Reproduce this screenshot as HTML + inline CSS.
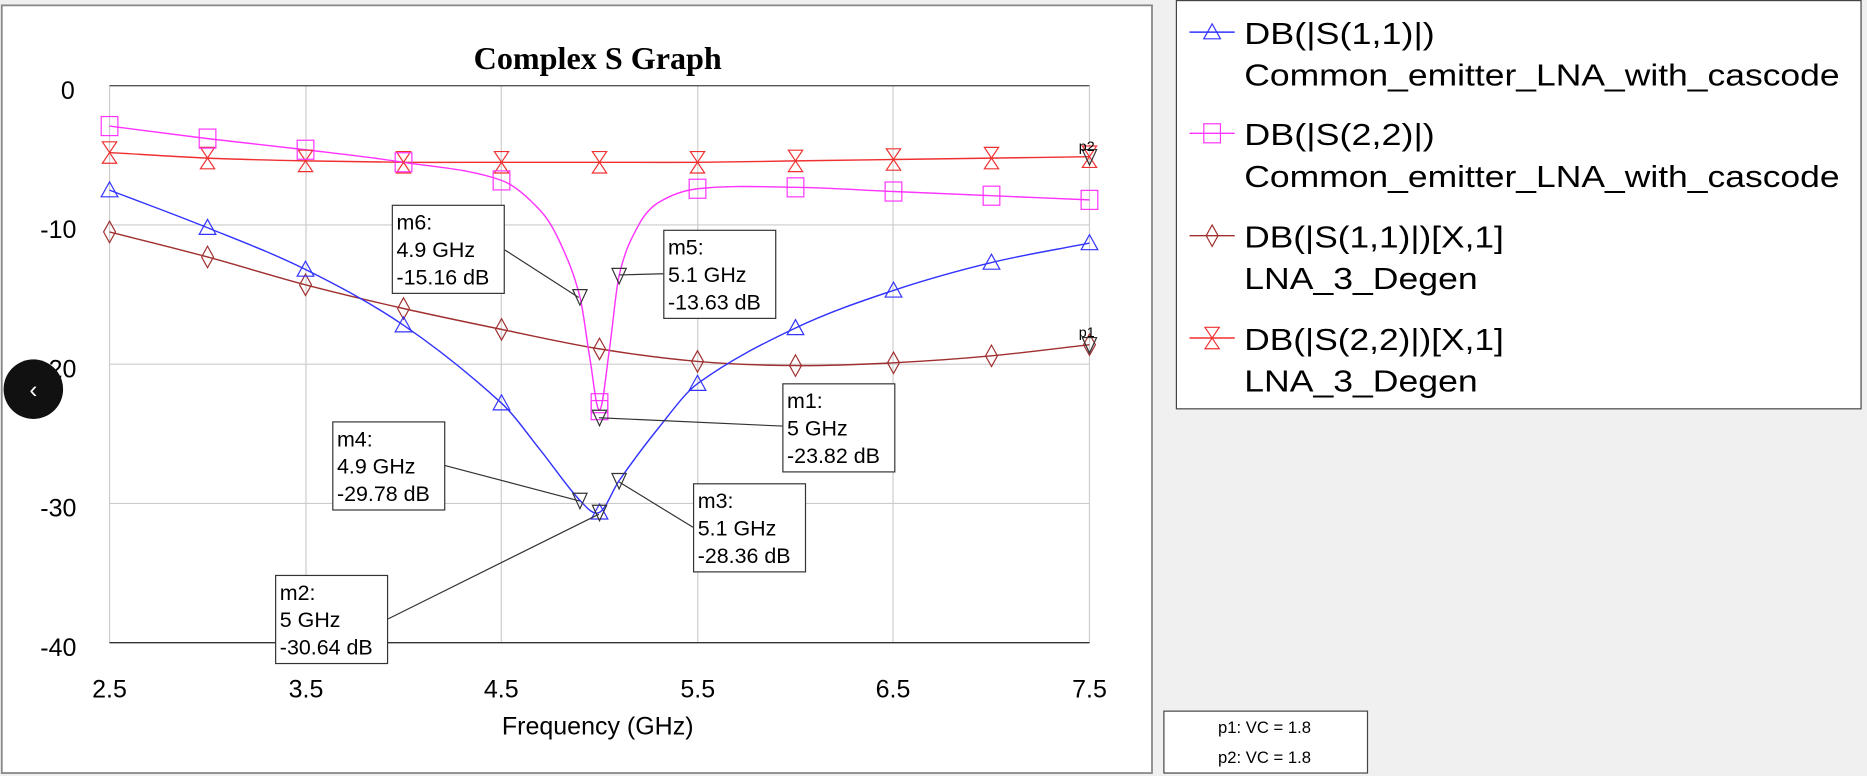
<!DOCTYPE html>
<html><head><meta charset="utf-8"><style>
html,body{margin:0;padding:0;width:1867px;height:776px;overflow:hidden;background:#f0f0f0}
svg{display:block}
text{font-family:"Liberation Sans",sans-serif}
</style></head><body>
<svg id="s" width="1867" height="776" viewBox="0 0 1568 652" preserveAspectRatio="none" xmlns="http://www.w3.org/2000/svg">
<rect x="0" y="0" width="1568" height="652" fill="#f0f0f0"/>
<rect x="1.5" y="4.5" width="966" height="645" fill="#fff" stroke="#888" stroke-width="1.5"/>
<text x="502" y="58" font-weight="bold" font-size="27" text-anchor="middle" style="font-family:'Liberation Serif',serif">Complex S Graph</text>
<g stroke="#ccc" stroke-width="1">
<line x1="257" y1="72" x2="257" y2="540"/><line x1="421" y1="72" x2="421" y2="540"/>
<line x1="586" y1="72" x2="586" y2="540"/><line x1="750" y1="72" x2="750" y2="540"/>
<line x1="92" y1="189" x2="915" y2="189"/><line x1="92" y1="306" x2="915" y2="306"/><line x1="92" y1="423" x2="915" y2="423"/>
<line x1="915" y1="72" x2="915" y2="540"/><line x1="92" y1="72" x2="92" y2="540"/>
</g>
<line x1="92" y1="72" x2="915" y2="72" stroke="#555" stroke-width="1.2"/>
<line x1="92" y1="540" x2="915" y2="540" stroke="#333" stroke-width="1.2"/>
<g font-size="21" text-anchor="middle" fill="#000">
<text x="57" y="83">0</text><text x="49" y="200">-10</text><text x="49" y="317">-20</text><text x="49" y="434">-30</text><text x="49" y="551">-40</text>
<text x="92" y="586">2.5</text><text x="257" y="586">3.5</text><text x="421" y="586">4.5</text><text x="586" y="586">5.5</text><text x="750" y="586">6.5</text><text x="915" y="586">7.5</text>
<text x="502" y="617" font-size="21">Frequency (GHz)</text>
</g>
<g id="curves"></g>
<g id="mk"></g>
<g font-size="12" fill="#000"><text x="906" y="127">p2</text><text x="906" y="283">p1</text></g>
<g id="boxes" font-size="18" fill="#000"></g>
<circle cx="28" cy="327" r="25" fill="#111"/>
<text x="28" y="334" fill="#fff" font-size="20" text-anchor="middle">‹</text>
<rect x="988" y="0.5" width="575" height="343" fill="#fff" stroke="#444" stroke-width="1"/>
<g font-size="26" fill="#000">
<text x="1045" y="37" textLength="160" lengthAdjust="spacingAndGlyphs">DB(|S(1,1)|)</text><text x="1045" y="72" textLength="500" lengthAdjust="spacingAndGlyphs">Common_emitter_LNA_with_cascode</text>
<text x="1045" y="122" textLength="160" lengthAdjust="spacingAndGlyphs">DB(|S(2,2)|)</text><text x="1045" y="157" textLength="500" lengthAdjust="spacingAndGlyphs">Common_emitter_LNA_with_cascode</text>
<text x="1045" y="208" textLength="218" lengthAdjust="spacingAndGlyphs">DB(|S(1,1)|)[X,1]</text><text x="1045" y="243" textLength="196" lengthAdjust="spacingAndGlyphs">LNA_3_Degen</text>
<text x="1045" y="294" textLength="218" lengthAdjust="spacingAndGlyphs">DB(|S(2,2)|)[X,1]</text><text x="1045" y="329" textLength="196" lengthAdjust="spacingAndGlyphs">LNA_3_Degen</text>
</g>
<g id="leg"></g>
<rect x="977.5" y="597.5" width="171" height="52" fill="#fff" stroke="#444" stroke-width="1"/>
<g font-size="14" fill="#000" text-anchor="middle"><text x="1062" y="616">p1: VC = 1.8</text><text x="1062" y="641">p2: VC = 1.8</text></g>
</svg>
<script>
var NS="http://www.w3.org/2000/svg";
function X(f){return 92+(f-2.5)*164.6}
function Y(d){return 72-d*11.7}
function el(p,t,a){var e=document.createElementNS(NS,t);for(var k in a)e.setAttribute(k,a[k]);p.appendChild(e);return e}
function path(pts){var P=pts.map(function(p){return[X(p[0]),Y(p[1])]});var d="M"+P[0][0]+","+P[0][1];
for(var i=0;i<P.length-1;i++){var p0=P[i-1]||P[i],p1=P[i],p2=P[i+1],p3=P[i+2]||p2;
var h=p2[0]-p1[0];
var m1=(p2[1]-p0[1])/((p2[0]-p0[0])||1),m2=(p3[1]-p1[1])/((p3[0]-p1[0])||1);
var c1=[p1[0]+h/3,p1[1]+m1*h/3],c2=[p2[0]-h/3,p2[1]-m2*h/3];
d+=" C"+c1+" "+c2+" "+p2;}return d}
var cv=document.getElementById("curves"),mk=document.getElementById("mk");
var blue=[[2.5,-7.5],[3,-10.2],[3.5,-13.2],[4,-17.2],[4.5,-22.8],[4.7,-26.2],[4.9,-29.78],[5,-30.64],[5.1,-28.36],[5.3,-24.6],[5.5,-21.4],[6,-17.4],[6.5,-14.7],[7,-12.7],[7.5,-11.3]];
var mag=[[2.5,-2.9],[3,-3.8],[3.5,-4.6],[4,-5.5],[4.5,-6.8],[4.7,-9],[4.8,-11.3],[4.9,-15.16],[4.95,-19.5],[5,-23.3],[5.05,-19],[5.1,-13.63],[5.2,-10],[5.3,-8.4],[5.5,-7.4],[6,-7.3],[6.5,-7.6],[7,-7.9],[7.5,-8.2]];
var brn=[[2.5,-10.5],[3,-12.3],[3.5,-14.3],[4,-16],[4.5,-17.5],[5,-18.9],[5.5,-19.8],[6,-20.1],[6.5,-19.9],[7,-19.4],[7.5,-18.6]];
var red=[[2.5,-4.8],[3,-5.2],[3.5,-5.4],[4,-5.5],[4.5,-5.5],[5,-5.5],[5.5,-5.5],[6,-5.4],[6.5,-5.3],[7,-5.2],[7.5,-5.1]];
var S=[[red,"#f03030","bow"],[brn,"#a03030","dia"],[mag,"#ff33ff","sq"],[blue,"#3333ff","tri"]];
function marker(g,x,y,t,c){var s=7;
if(t=="tri")el(g,"polygon",{points:(x-s)+","+(y+s*0.8)+" "+(x+s)+","+(y+s*0.8)+" "+x+","+(y-s),fill:"none",stroke:c});
if(t=="sq")el(g,"rect",{x:x-7,y:y-8,width:14,height:16,fill:"none",stroke:c});
if(t=="dia")el(g,"polygon",{points:x+","+(y-9)+" "+(x+5)+","+y+" "+x+","+(y+9)+" "+(x-5)+","+y,fill:"none",stroke:c});
if(t=="bow")el(g,"polygon",{points:(x-6)+","+(y-9)+" "+(x+6)+","+(y-9)+" "+(x-6)+","+(y+9)+" "+(x+6)+","+(y+9),fill:"none",stroke:c});
if(t=="dn")el(g,"polygon",{points:(x-6)+","+(y-7)+" "+(x+6)+","+(y-7)+" "+x+","+(y+6),fill:"none",stroke:c});}
S.forEach(function(s){el(cv,"path",{d:path(s[0]),fill:"none",stroke:s[1],"stroke-width":1.2});
for(var f=2.5;f<=7.51;f+=0.5){var v=s[0].filter(function(p){return Math.abs(p[0]-f)<1e-6})[0];if(v)marker(mk,X(f),Y(v[1]),s[2],s[1]);}});
marker(mk,X(5),Y(-22.8),"sq","#ff33ff");
var lg=document.getElementById("leg");
[[27,"#3333ff","tri"],[112,"#ff33ff","sq"],[198,"#a03030","dia"],[284,"#f03030","bow"]].forEach(function(l){el(lg,"line",{x1:999,y1:l[0],x2:1037,y2:l[0],stroke:l[1],"stroke-width":1.2});marker(lg,1018,l[0],l[2],l[1]);});
[[4.9,-15.16],[5.1,-13.63],[5,-23.82],[4.9,-29.78],[5.1,-28.36],[5,-30.64],[7.5,-18.6],[7.5,-5.1]].forEach(function(p){marker(mk,X(p[0]),Y(p[1])+1,"dn","#333");});
var bx=document.getElementById("boxes");
[[329,172,"m6:","4.9 GHz","-15.16 dB",424,210,486,250],[557,193,"m5:","5.1 GHz","-13.63 dB",557,230,520,231],[657,322,"m1:","5 GHz","-23.82 dB",657,358,503,351],
[279,354,"m4:","4.9 GHz","-29.78 dB",373,391,487,421],[582,406,"m3:","5.1 GHz","-28.36 dB",582,443,520,405],[231,483,"m2:","5 GHz","-30.64 dB",326,520,503,432]].forEach(function(b){
el(bx,"line",{x1:b[5],y1:b[6],x2:b[7],y2:b[8],stroke:"#333","stroke-width":1});
el(bx,"rect",{x:b[0]+0.5,y:b[1]+0.5,width:94,height:74,fill:"#fff",stroke:"#333","stroke-width":1});
[b[2],b[3],b[4]].forEach(function(t,i){var e=el(bx,"text",{x:b[0]+4,y:b[1]+21+i*23});e.textContent=t;});});
</script>
</body></html>
